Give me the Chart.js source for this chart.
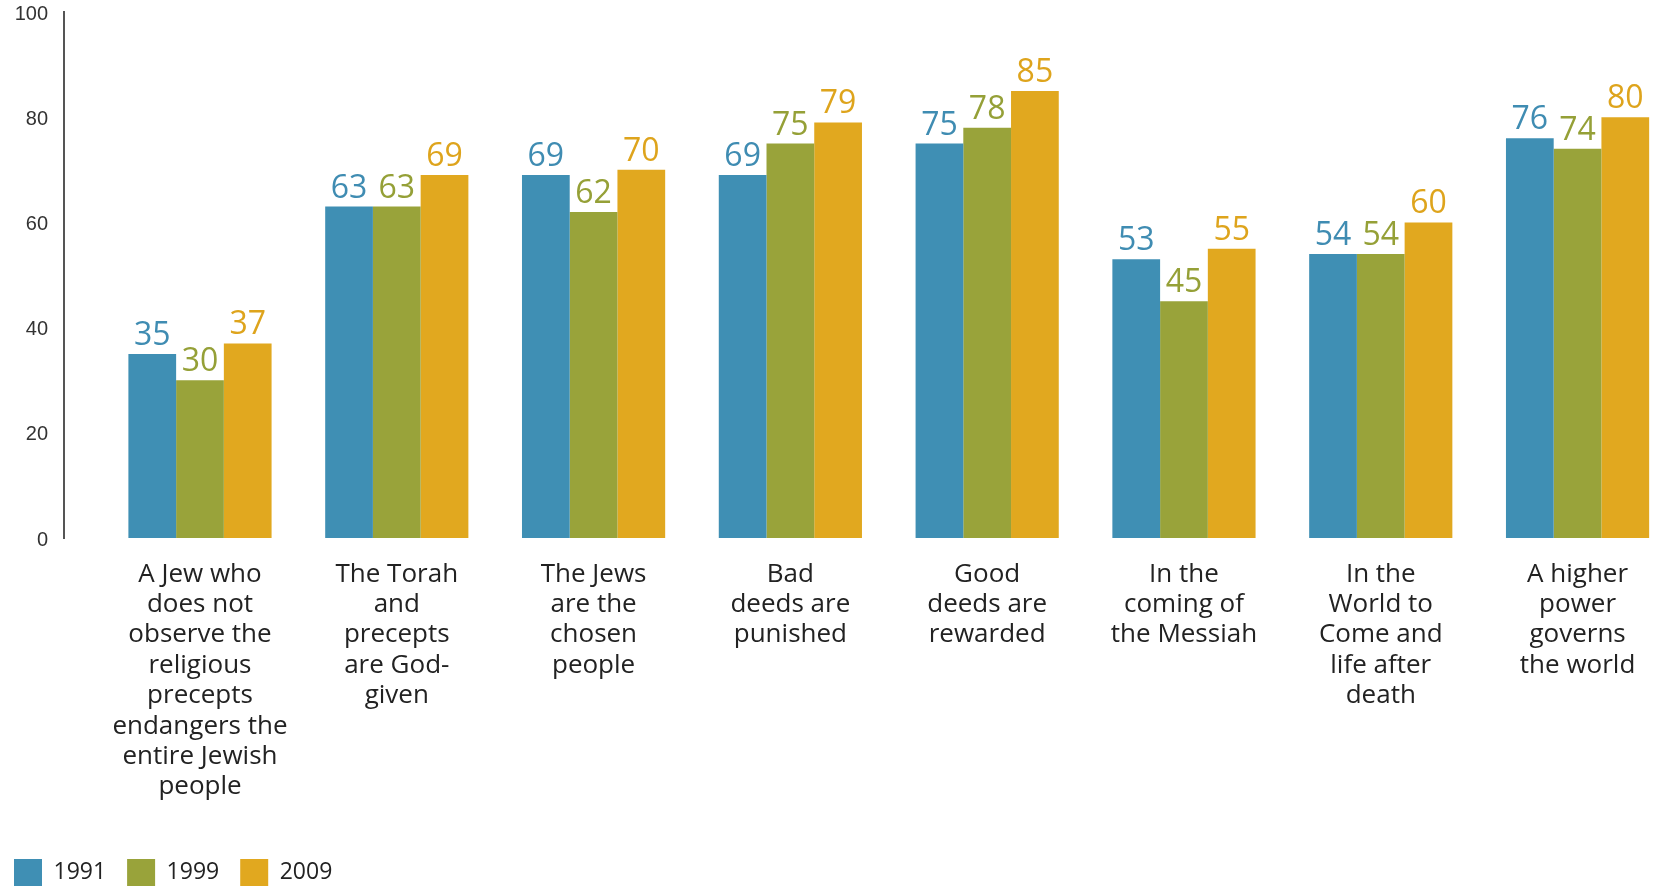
<!DOCTYPE html>
<html>
<head>
<meta charset="utf-8">
<title>Beliefs, 1991 / 1999 / 2009</title>
<script src="https://cdn.jsdelivr.net/npm/chart.js@4.4.1/dist/chart.umd.min.js"></script>
<style>
  html, body { margin: 0; padding: 0; background: #ffffff; overflow: hidden; }
  #wrap { width: 1661px; height: 888px; }
</style>
</head>
<body>
<div id="wrap"><canvas id="chart" width="1661" height="888"></canvas></div>
<script>
// Statements (multi-line tick labels)
const categories = [
  ["A Jew who", "does not", "observe the", "religious", "precepts", "endangers the", "entire Jewish", "people"],
  ["The Torah", "and", "precepts", "are God-", "given"],
  ["The Jews", "are the", "chosen", "people"],
  ["Bad", "deeds are", "punished"],
  ["Good", "deeds are", "rewarded"],
  ["In the", "coming of", "the Messiah"],
  ["In the", "World to", "Come and", "life after", "death"],
  ["A higher", "power", "governs", "the world"]
];

const years = ["1991", "1999", "2009"];

// Percentage agreeing, per survey year
const values1991 = [35, 63, 69, 69, 75, 53, 54, 76];
const values1999 = [30, 63, 62, 75, 78, 45, 54, 74];
const values2009 = [37, 69, 70, 79, 85, 55, 60, 80];

const yTickValues = [0, 20, 40, 60, 80, 100];

const barColors = ["#3f8fb4", "#99a33a", "#e1a81f"];
const valueColors = ["#3f8cb2", "#95a037", "#dea41c"];

// each category sits at an integer position on a linear x scale
const toPoints = (values) => values.map((v, i) => ({ x: i, y: v }));

const seriesValues = [values1991, values1999, values2009];

const datasets = years.map((year, d) => ({
  label: year,
  data: toPoints(seriesValues[d]),
  backgroundColor: barColors[d],
  borderWidth: 0,
  valueColor: valueColors[d]
}));

// Draws each bar's value just above it
const valueLabels = {
  id: "valueLabels",
  afterDatasetsDraw(chart) {
    const { ctx } = chart;
    ctx.save();
    ctx.font = '32px "Open Sans"';
    ctx.textAlign = "center";
    ctx.textBaseline = "alphabetic";
    chart.data.datasets.forEach((ds, d) => {
      const meta = chart.getDatasetMeta(d);
      ctx.fillStyle = ds.valueColor;
      meta.data.forEach((bar, i) => {
        ctx.fillText(String(ds.data[i].y), bar.x, bar.y - 9);
      });
    });
    ctx.restore();
  }
};

new Chart(document.getElementById("chart"), {
  type: "bar",
  data: { datasets },
  options: {
    responsive: false,
    animation: false,
    events: [],
    layout: { padding: { left: -7, right: 0, top: 12, bottom: -8 } },
    datasets: { bar: { categoryPercentage: 0.7276, barPercentage: 1 } },
    scales: {
      x: {
        type: "linear",
        min: -0.691,
        max: 7.424,
        offset: false,
        grid: { display: false, drawTicks: false },
        border: { display: false },
        ticks: {
          stepSize: 1,
          includeBounds: false,
          autoSkip: false,
          maxRotation: 0,
          minRotation: 0,
          padding: 21,
          color: "#222222",
          font: { family: '"Open Sans"', size: 26, lineHeight: "30.4px" },
          callback: (v) => categories[v]
        },
        afterFit: (scale) => { scale.height = 300; }
      },
      y: {
        min: 0,
        max: 100,
        grid: { display: false, drawTicks: false },
        border: { display: true, color: "#555555", width: 2 },
        afterBuildTicks: (scale) => { scale.ticks = yTickValues.map((v) => ({ value: v })); },
        ticks: {
          padding: 16,
          labelOffset: 2,
          color: "#333333",
          font: { family: '"Liberation Sans"', size: 20 }
        },
        afterFit: (scale) => {
          scale.width = 71;
          scale.paddingTop = 0;
          scale.paddingBottom = 0;
        }
      }
    },
    plugins: {
      legend: {
        position: "bottom",
        align: "start",
        labels: {
          boxWidth: 28,
          boxHeight: 27,
          padding: 21,
          color: "#222222",
          font: { family: '"Open Sans"', size: 23 }
        }
      },
      tooltip: { enabled: false }
    }
  },
  plugins: [valueLabels]
});
</script>
</body>
</html>
